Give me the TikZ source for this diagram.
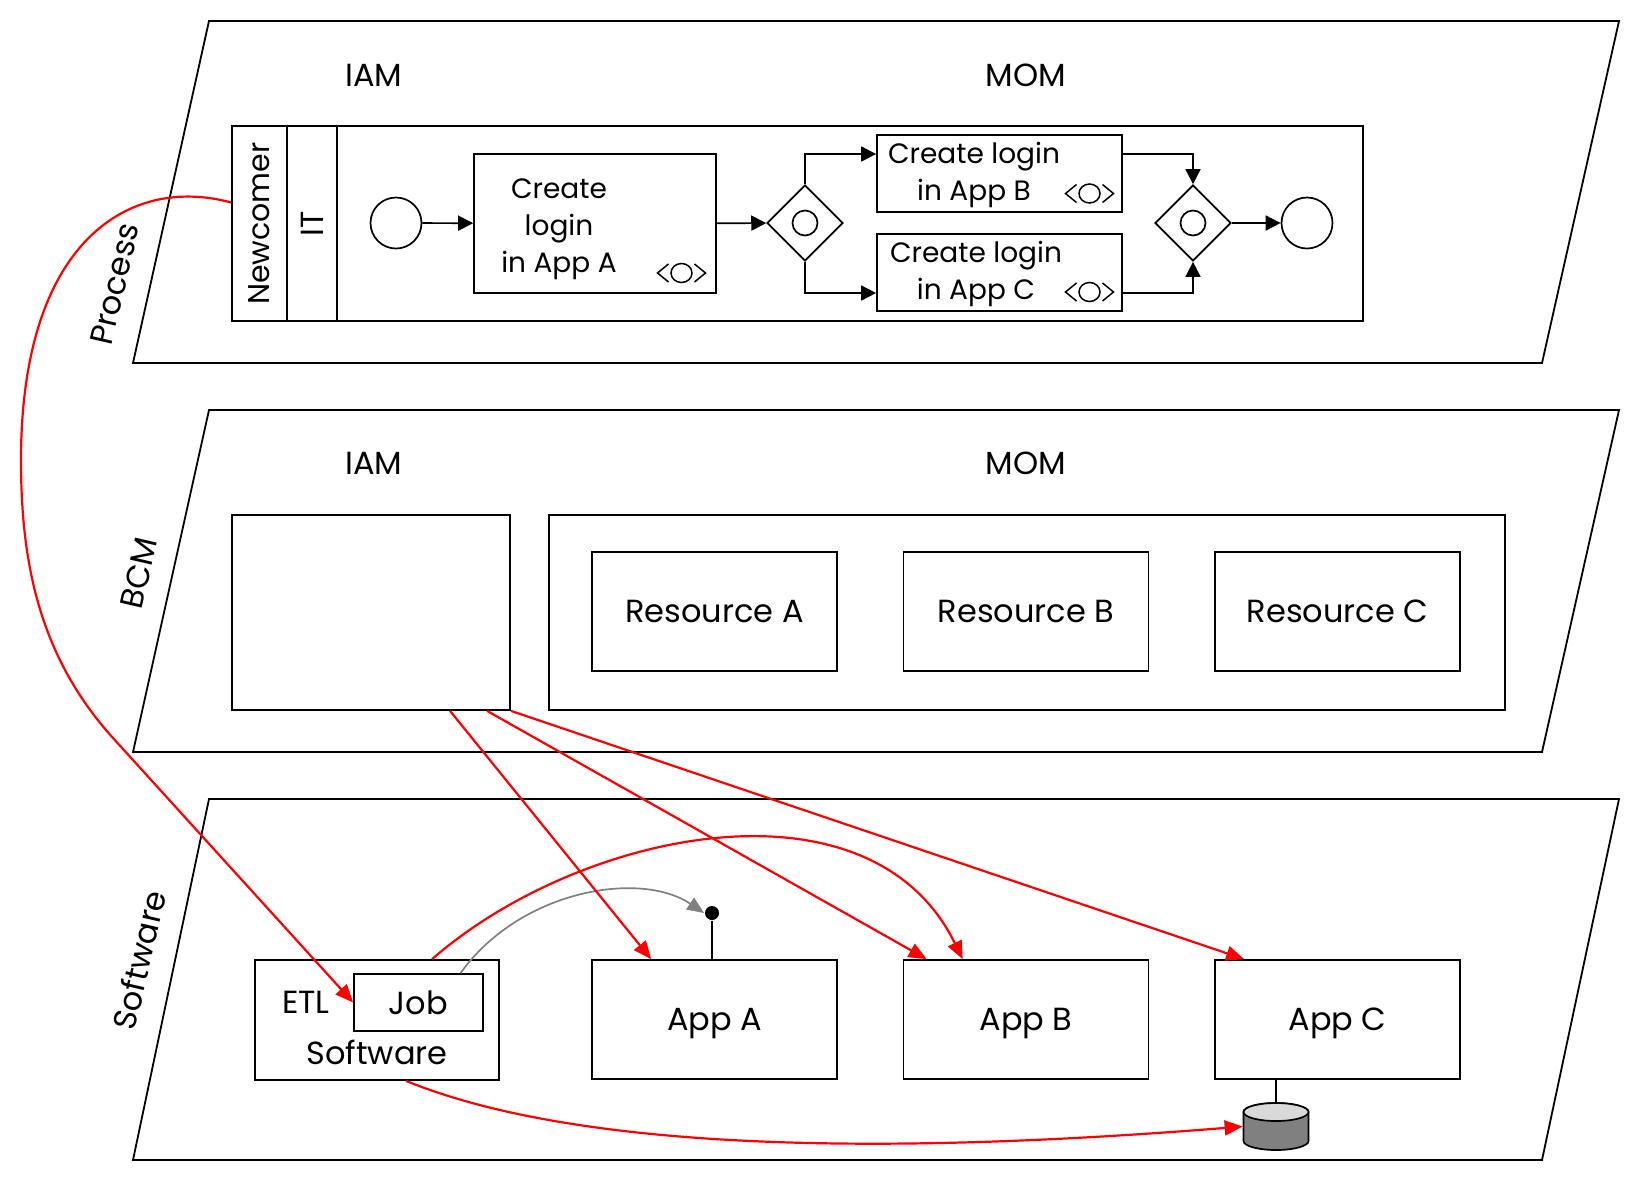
\documentclass[tikz,border=0pt]{standalone}
\usepackage{fontspec}
\setmainfont{Poppins}
\usetikzlibrary{arrows.meta,shapes.geometric,positioning}

\begin{document}
\begin{tikzpicture}[
  x=1pt, y=-1pt, line width=1.7pt,
  bigtext/.style={font=\fontsize{32}{38}\selectfont},
  tasktext/.style={font=\fontsize{28}{37}\selectfont, align=center},
  box/.style={rectangle, draw, line width=1.7pt, inner sep=0pt},
  layer/.style={draw, line width=1.8pt},
  event/.style={circle, draw, minimum size=51pt, inner sep=0pt},
  gateway/.style={diamond, draw, minimum size=76pt, inner sep=0pt},
  flow/.style={-{Triangle[length=15pt,width=15pt]}},
  trace/.style={red, line width=2.2pt, -{Triangle[length=18pt,width=15pt]}},
]
\useasboundingbox (0,0) rectangle (1640,1187);

% Three layers
\draw[layer] (209,21) -- (1619,21) -- (1542,363) -- (133,363) -- cycle;
\draw[layer] (209,410) -- (1619,410) -- (1542,752) -- (133,752) -- cycle;
\draw[layer] (209,799) -- (1619,799) -- (1542,1160) -- (133,1160) -- cycle;
\node[bigtext, rotate=77] (processlabel) at (115,284) {Process};
\node[bigtext, rotate=77] (bcmlabel) at (139,573) {BCM};
\node[bigtext, rotate=77] (softwarelabel) at (139,960) {Software};

% Column headers
\node[bigtext] (iamtop) at (374,75) {IAM};
\node[bigtext] (momtop) at (1026,75) {MOM};
\node[bigtext] (iammid) at (374,463) {IAM};
\node[bigtext] (mommid) at (1026,463) {MOM};

% Process: pool and lanes
\node[box, minimum width=1131pt, minimum height=195pt] (pool) at (797.5,223.5) {};
\node[box, font=\fontsize{30}{36}\selectfont, rotate=90, minimum width=195pt, minimum height=55pt] (newcomer) at (259.5,223.5) {Newcomer};
\node[box, bigtext, rotate=90, minimum width=195pt, minimum height=50pt] (it) at (312,223.5) {IT};

% Process: events, tasks, gateways
\node[event] (start) at (396,223) {};
\node[box, minimum width=242pt, minimum height=139pt] (taskA) at (595,223.5) {};
\node[tasktext] (taskAtext) at (559,229) {Create\\login\\in App A};
\node[gateway] (gw1) at (805,223) {};
\node[circle, draw, minimum size=25pt, inner sep=0pt] (gw1c) at (gw1) {};
\node[box, minimum width=245pt, minimum height=77pt] (taskB) at (999.5,173.5) {};
\node[tasktext] (taskBtext) at (974,175) {Create login\\in App B};
\node[box, minimum width=245pt, minimum height=77pt] (taskC) at (999.5,272.5) {};
\node[tasktext] (taskCtext) at (976,273.5) {Create login\\in App C};
\node[gateway] (gw2) at (1193,223) {};
\node[circle, draw, minimum size=25pt, inner sep=0pt] (gw2c) at (gw2) {};
\node[event] (end) at (1307,223) {};

% task markers
\foreach \mx/\my in {681.5/273, 1089.5/193.5, 1089.5/292} {
  \draw[line width=1.5pt] (\mx,\my) ellipse[x radius=10.5pt, y radius=9.5pt];
  \draw[line width=1.5pt] (\mx-13,\my-9) -- (\mx-24,\my) -- (\mx-13,\my+9);
  \draw[line width=1.5pt] (\mx+13,\my-9) -- (\mx+24,\my) -- (\mx+13,\my+9);
}

\draw[flow] (start) -- (taskA);
\draw[flow] (taskA) -- (gw1);
\draw[flow] (gw1.north) |- ([yshift=19.5pt]taskB.west);
\draw[flow] (gw1.south) |- ([yshift=-20.5pt]taskC.west);
\draw[flow] ([yshift=19.5pt]taskB.east) -| (gw2.north);
\draw[flow] ([yshift=-20.5pt]taskC.east) -| (gw2.south);
\draw[flow] (gw2) -- (end);

% BCM: capabilities
\node[box, minimum width=278pt, minimum height=195pt] (iamcap) at (371,612.5) {};
\node[box, minimum width=956pt, minimum height=195pt] (momcap) at (1027,612.5) {};
\node[box, bigtext, minimum width=245pt, minimum height=119pt] (resA) at (714.5,611.5) {Resource A};
\node[box, bigtext, minimum width=245pt, minimum height=119pt] (resB) at (1026,611.5) {Resource B};
\node[box, bigtext, minimum width=245pt, minimum height=119pt] (resC) at (1337.5,611.5) {Resource C};

% Software: applications
\node[box, minimum width=244pt, minimum height=120pt] (etl) at (377,1020) {};
\node[bigtext] (etllabel) at (306,1002) {ETL};
\node[bigtext] (etlsw) at (377,1052) {Software};
\node[box, bigtext, minimum width=129pt, minimum height=57pt] (job) at (418.5,1002.5) {Job};
\node[box, bigtext, text depth=0pt, minimum width=245pt, minimum height=119pt] (appA) at (714.5,1019.5) {App A};
\node[box, bigtext, text depth=0pt, minimum width=245pt, minimum height=119pt] (appB) at (1026,1019.5) {App B};
\node[box, bigtext, text depth=0pt, minimum width=245pt, minimum height=119pt] (appC) at (1337.5,1019.5) {App C};
\node[circle, fill=black, minimum size=14pt, inner sep=0pt] (dot) at (712,913) {};

% data store
\node[inner sep=0pt, minimum width=65pt, minimum height=47pt] (db) at (1276,1126.5) {};
\filldraw[fill=black!50] (1243.5,1112) -- (1243.5,1141) arc[start angle=180, end angle=360, x radius=32.5pt, y radius=9pt]
  -- (1308.5,1112) arc[start angle=0, end angle=180, x radius=32.5pt, y radius=9pt] -- cycle;
\filldraw[fill=black!15] (1276,1112) ellipse[x radius=32.5pt, y radius=9pt];

\draw (dot.south) -- (dot.south |- appA.north);
\draw (db.north |- appC.south) -- (db.north);
\draw[gray, -{Triangle[length=17pt,width=14pt]}] ([xshift=42pt]job.north) .. controls (520,890) and (640,870) .. (dot.west);

% Red trace links
\draw[trace] ([yshift=21pt]pool.west) .. controls (130,175) and (21,240) .. (21,460)
  .. controls (21,560) and (38,655) .. (113,738) -- (job.west);
\draw[trace] ([xshift=79pt]iamcap.south) -- ([xshift=60pt]appA.north west);
\draw[trace] ([xshift=116pt]iamcap.south) -- ([xshift=24pt]appB.north west);
\draw[trace] (iamcap.south east) -- ([xshift=30pt]appC.north west);
\draw[trace] ([xshift=55pt]etl.north) .. controls (580,830) and (870,770) .. ([xshift=60pt]appB.north west);
\draw[trace] ([xshift=29pt]etl.south) .. controls (600,1160) and (950,1150) .. (db.west);

\end{tikzpicture}
\end{document}
